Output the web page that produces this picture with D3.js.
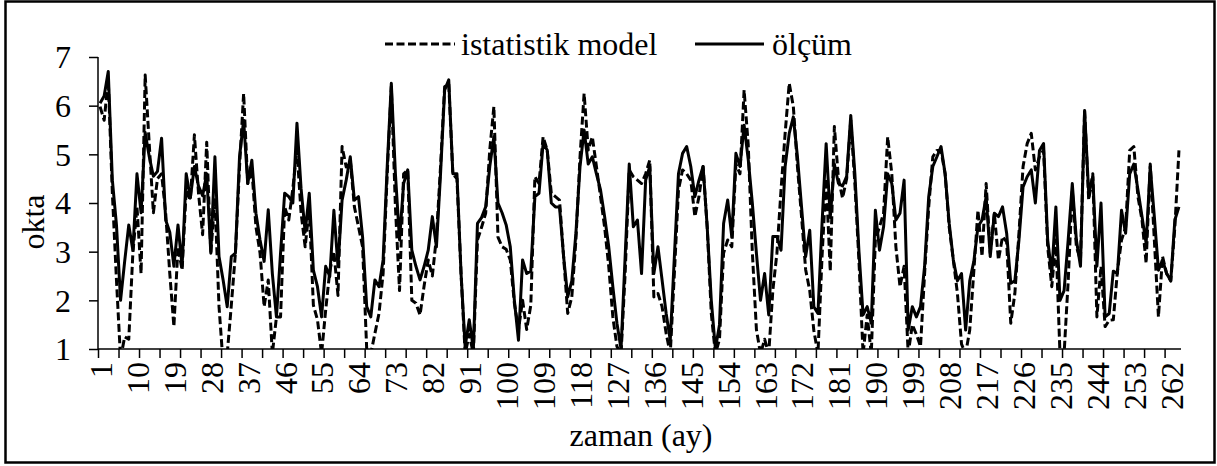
<!DOCTYPE html>
<html><head><meta charset="utf-8">
<script src="https://cdn.jsdelivr.net/npm/d3@7/dist/d3.min.js"></script>
<style>html,body{margin:0;padding:0;background:#fff}svg{display:block}</style>
</head><body><svg id="c" width="1217" height="466"></svg>
<script>
const seriesNames = ["istatistik model", "ölçüm"];
const xTickLabels = [1,10,19,28,37,46,55,64,73,82,91,100,109,118,127,136,145,154,163,172,181,190,199,208,217,226,235,244,253,262];
const yTicks = [1,2,3,4,5,6,7];
const olcum = [
6.05,6.2,6.7,4.47,3.55,2.0,2.8,3.55,3.03,4.6,3.8,5.45,4.95,4.55,4.65,5.33,3.65,3.4,2.7,3.55,
2.7,4.6,4.1,4.75,4.35,4.15,4.6,2.97,4.95,2.9,2.42,1.87,2.9,2.97,4.95,5.7,4.4,4.88,3.79,3.24,
2.8,3.86,2.55,1.66,2.97,4.2,4.13,4.0,5.64,4.3,3.4,4.2,2.62,2.28,1.66,2.7,2.49,3.85,2.7,4.06,
4.47,4.95,4.06,4.13,3.3,1.87,1.66,2.42,2.28,2.83,4.75,6.46,4.6,3.24,4.4,4.68,3.03,2.7,2.42,2.7,
3.03,3.72,3.1,4.6,6.32,6.53,4.6,4.6,2.55,1.05,1.6,1.0,3.58,3.7,3.92,4.75,5.36,4.0,3.8,3.55,
3.1,2.0,1.18,2.83,2.55,2.6,4.13,4.2,5.22,5.09,4.0,3.92,3.92,2.9,2.07,2.4,3.38,4.75,5.5,4.8,
4.95,4.6,4.27,3.72,3.1,2.28,1.53,1.0,2.9,4.8,3.51,3.65,2.55,4.47,4.75,2.55,3.1,2.42,1.73,1.18,
2.9,4.6,5.02,5.16,4.75,4.13,4.47,4.75,3.51,2.0,1.0,1.5,3.58,4.06,3.3,5.02,4.75,5.6,4.9,4.0,
2.97,2.0,2.55,1.7,3.31,3.31,3.03,4.75,5.43,5.77,4.95,3.92,2.9,3.44,1.87,1.73,3.58,5.22,3.7,4.8,
4.4,4.35,4.55,5.8,4.6,3.0,1.7,1.87,1.53,3.85,3.03,3.51,4.6,4.4,3.65,3.79,4.47,1.39,1.87,1.66,
1.87,2.7,4.13,4.75,4.95,5.16,4.6,3.58,2.83,2.4,2.55,1.39,2.4,2.8,3.51,3.65,4.13,2.9,3.79,3.72,
3.92,3.38,2.35,2.4,3.24,4.33,4.54,4.68,4.0,5.08,5.22,3.24,2.55,3.92,2.0,2.2,3.24,4.4,3.24,2.7,
5.9,4.2,4.54,2.7,4.0,1.66,1.73,2.6,2.55,3.85,3.38,4.6,4.8,4.27,3.72,3.17,4.75,3.72,2.62,2.83,
2.55,2.4,3.65,3.92];
const model = [
5.98,5.7,6.53,4.2,2.42,0.8,1.25,1.2,2.97,3.92,2.55,6.63,5.2,3.8,4.5,4.6,3.79,2.55,1.46,3.1,
2.62,4.27,4.06,5.4,4.2,3.35,5.25,2.97,4.1,1.87,0.7,0.9,1.9,2.97,4.74,6.25,4.4,4.7,3.51,2.97,
1.87,2.42,0.9,1.66,1.66,3.92,3.65,4.3,5.09,3.8,3.1,3.9,1.9,1.6,0.9,1.8,2.6,3.0,2.1,5.16,
4.74,4.88,3.92,3.51,3.1,1.0,0.9,1.32,1.73,2.55,4.6,6.39,3.92,2.2,4.6,4.68,2.0,1.94,1.7,2.3,
2.83,2.5,3.3,4.75,6.39,6.45,4.6,4.5,2.55,0.9,1.3,0.9,3.24,3.5,3.79,5.09,5.98,3.3,3.1,3.05,
2.83,1.94,1.4,2.0,1.4,1.9,4.54,4.4,5.36,5.09,4.2,4.13,4.06,2.9,1.73,2.07,3.24,4.95,6.25,5.09,
5.36,4.75,4.13,3.5,2.7,1.66,1.05,0.9,2.55,4.68,4.54,4.47,4.4,4.6,4.88,2.07,2.14,1.87,1.32,0.9,
2.55,4.27,4.68,4.6,4.47,3.72,4.13,4.75,3.51,1.73,0.9,1.2,2.97,3.24,3.1,4.8,4.6,6.32,5.2,3.0,
1.4,0.9,1.2,0.9,2.2,2.97,4.27,5.43,6.46,5.98,4.75,3.72,2.63,2.2,1.38,0.9,2.9,4.5,2.6,5.57,
4.5,4.1,4.5,5.7,4.4,2.8,0.9,1.7,0.9,3.24,3.51,3.79,5.36,4.6,3.1,2.28,2.7,0.9,1.5,1.3,
1.05,2.55,3.92,4.95,5.08,5.08,4.6,3.5,2.83,2.14,1.1,0.9,1.39,2.6,3.85,2.9,4.4,2.97,3.79,2.83,
3.31,3.2,1.53,2.14,3.38,4.75,5.22,5.43,4.68,4.95,5.09,3.1,2.28,3.24,0.9,0.9,2.4,4.27,3.1,2.83,
5.9,4.06,4.6,1.66,2.7,1.46,1.59,1.6,2.6,3.24,3.5,5.08,5.16,4.13,3.65,2.76,4.8,3.24,1.66,2.9,
2.55,2.4,3.5,5.08];
const categories = d3.range(1, olcum.length + 1);

const FONT = "Liberation Serif";
const FS = 32;
const svg = d3.select("#c");
const L = 98, R = 1181, T = 57, B = 349;
const x = d3.scaleBand().domain(categories).range([L, R]).padding(0);
const xb = d3.scaleLinear().domain([0, categories.length]).range([L, R]);
const y = d3.scaleLinear().domain([1, 7]).range([B, T]);
const cx = d => x(d) + x.bandwidth() / 2;

svg.append("rect").attr("x", 5.5).attr("y", 1.5).attr("width", 1209).attr("height", 461)
  .attr("fill", "none").attr("stroke", "#000").attr("stroke-width", 2.5);

svg.append("defs").append("clipPath").attr("id", "clip")
  .append("rect").attr("x", L).attr("y", T - 10).attr("width", R - L + 2).attr("height", B - T + 10);

const g = svg.append("g").attr("clip-path", "url(#clip)");
const line = arr => d3.line().x((d, i) => cx(categories[i])).y(d => y(d))(arr);
g.append("path").attr("d", line(model)).attr("fill", "none").attr("stroke", "#000")
  .attr("stroke-width", 3).attr("stroke-dasharray", "8,3.5").attr("stroke-linejoin", "round");
g.append("path").attr("d", line(olcum)).attr("fill", "none").attr("stroke", "#000")
  .attr("stroke-width", 3).attr("stroke-linejoin", "round");

const ya = svg.append("g").attr("transform", `translate(${L},0)`)
  .call(d3.axisLeft(y).tickValues(yTicks).tickSize(9).tickFormat(d3.format("d")));
ya.select(".domain").attr("stroke", "#000").attr("stroke-width", 1.5).attr("d", `M-0,${B}V${T}`);
ya.selectAll(".tick line").attr("stroke", "#000").attr("stroke-width", 1.5);
ya.selectAll(".tick text").attr("x", -27).attr("dy", "0.34em")
  .style("font-family", FONT).style("font-size", FS + "px").attr("fill", "#000");

const xa = svg.append("g").attr("transform", `translate(0,${B})`)
  .call(d3.axisBottom(xb).tickValues(d3.range(0, categories.length + 1, 5)).tickSize(9).tickFormat(""));
xa.select(".domain").attr("stroke", "#000").attr("stroke-width", 1.5).attr("d", `M${L},0H${R}`);
xa.selectAll(".tick line").attr("stroke", "#000").attr("stroke-width", 1.5);

svg.append("g").selectAll("text").data(xTickLabels).join("text")
  .attr("transform", d => `translate(${cx(d) + 1},${362}) rotate(-90)`)
  .attr("text-anchor", "end").attr("dy", "0.34em")
  .style("font-family", FONT).style("font-size", FS + "px").text(d => d);

svg.append("text").attr("transform", "translate(44,222) rotate(-90)").attr("text-anchor", "middle")
  .style("font-family", FONT).style("font-size", FS + "px").text("okta");
svg.append("text").attr("x", 641).attr("y", 446).attr("text-anchor", "middle")
  .style("font-family", FONT).style("font-size", FS + "px").text("zaman (ay)");

const lg = svg.append("g");
lg.append("line").attr("x1", 385).attr("x2", 455).attr("y1", 44).attr("y2", 44)
  .attr("stroke", "#000").attr("stroke-width", 3).attr("stroke-dasharray", "8,3.5");
lg.append("text").attr("x", 461).attr("y", 55).style("font-family", FONT).style("font-size", FS + "px").text(seriesNames[0]);
lg.append("line").attr("x1", 695).attr("x2", 764).attr("y1", 44).attr("y2", 44)
  .attr("stroke", "#000").attr("stroke-width", 3);
lg.append("text").attr("x", 772).attr("y", 55).style("font-family", FONT).style("font-size", FS + "px").text(seriesNames[1]);
</script></body></html>
